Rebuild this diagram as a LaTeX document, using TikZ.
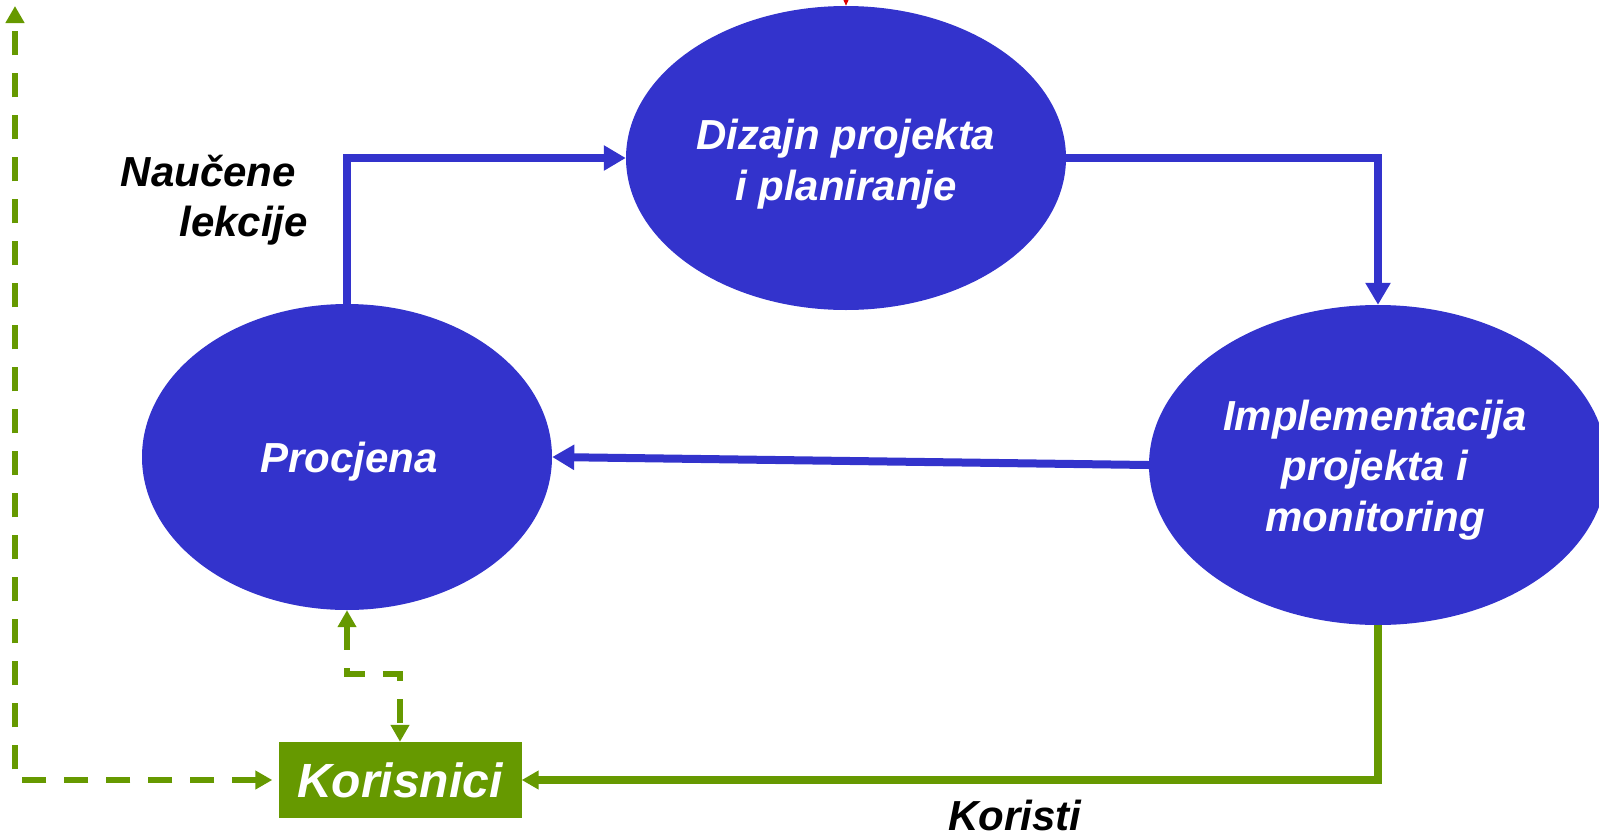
\documentclass[tikz,border=0pt]{standalone}
\usepackage{fontspec}
\setmainfont{Liberation Sans}
\usetikzlibrary{shapes.geometric,arrows.meta}
\definecolor{stageblue}{HTML}{3333CC}
\definecolor{usergreen}{HTML}{669900}
\definecolor{tipred}{HTML}{DD0000}

\begin{document}
\begin{tikzpicture}[x=1pt, y=-1pt,
          stage/.style={ellipse, fill=stageblue, inner sep=0pt},
          stagetext/.style={inner sep=0pt, align=center, text=white, font=\fontsize{42}{50.5}\selectfont\bfseries\itshape},
          users/.style={rectangle, fill=usergreen, inner sep=0pt, minimum width=243pt, minimum height=76pt, text=white, font=\fontsize{48}{56}\selectfont\bfseries\itshape},
          note/.style={inner sep=0pt, font=\fontsize{42}{50}\selectfont\bfseries\itshape},
          flow/.style={-{Triangle[length=22pt,width=24pt]}, line width=8pt, draw=stageblue},
          gain/.style={-{Triangle[length=17pt,width=18pt]}, line width=7.5pt, draw=usergreen},
          loop/.style={{Triangle[length=17pt,width=18pt]}-{Triangle[length=17pt,width=18pt]}, line width=6.3pt, draw=usergreen, dash pattern=on 24pt off 18pt}
        ]
          \useasboundingbox (0,0) rectangle (1599,836);

          % Project cycle
          \node[stage, minimum width=440pt, minimum height=304pt] (design) at (846,158) {};
          \node[stagetext] (designtext) at (846,164) {Dizajn projekta\\i planiranje};
          \node[stage, minimum width=410pt, minimum height=306pt] (assess) at (347,457) {};
          \node[stagetext] (assesstext) at (349,462) {Procjena};
          \node[stage, minimum width=458pt, minimum height=320pt] (implement) at (1378,465) {};
          \node[stagetext] (implementtext) at (1375,470) {Implementacija\\projekta i\\monitoring};

          % Users
          \node[users] (users) at (400,780) {Korisnici};

          % Labels
          \node[note, anchor=east, align=right] (lessons) at (308,200) {Naučene\hspace*{12pt}\\lekcije};
          \node[note] (benefits) at (1015,815) {Koristi};

          % Free ends
          \coordinate (incoming) at (846,-40);
          \coordinate (lefttop) at (15,6);

          % Connections
          \draw[flow] (assess.north) |- (design.west);
          \draw[flow] (design.east) -| (implement.north);
          \draw[flow] (implement.west) -- (assess.east);
          \draw[gain] (implement.south) |- (users.east);
          \draw[loop] (assess.south) -- ++(0,64) -| (users.north);
          \draw[loop, shorten <=6pt] (users.west) -| (lefttop);
          \draw[-{Triangle[length=14pt,width=12pt]}, line width=2pt, draw=tipred] (incoming) -- (design.north);
        \end{tikzpicture}
\end{document}
